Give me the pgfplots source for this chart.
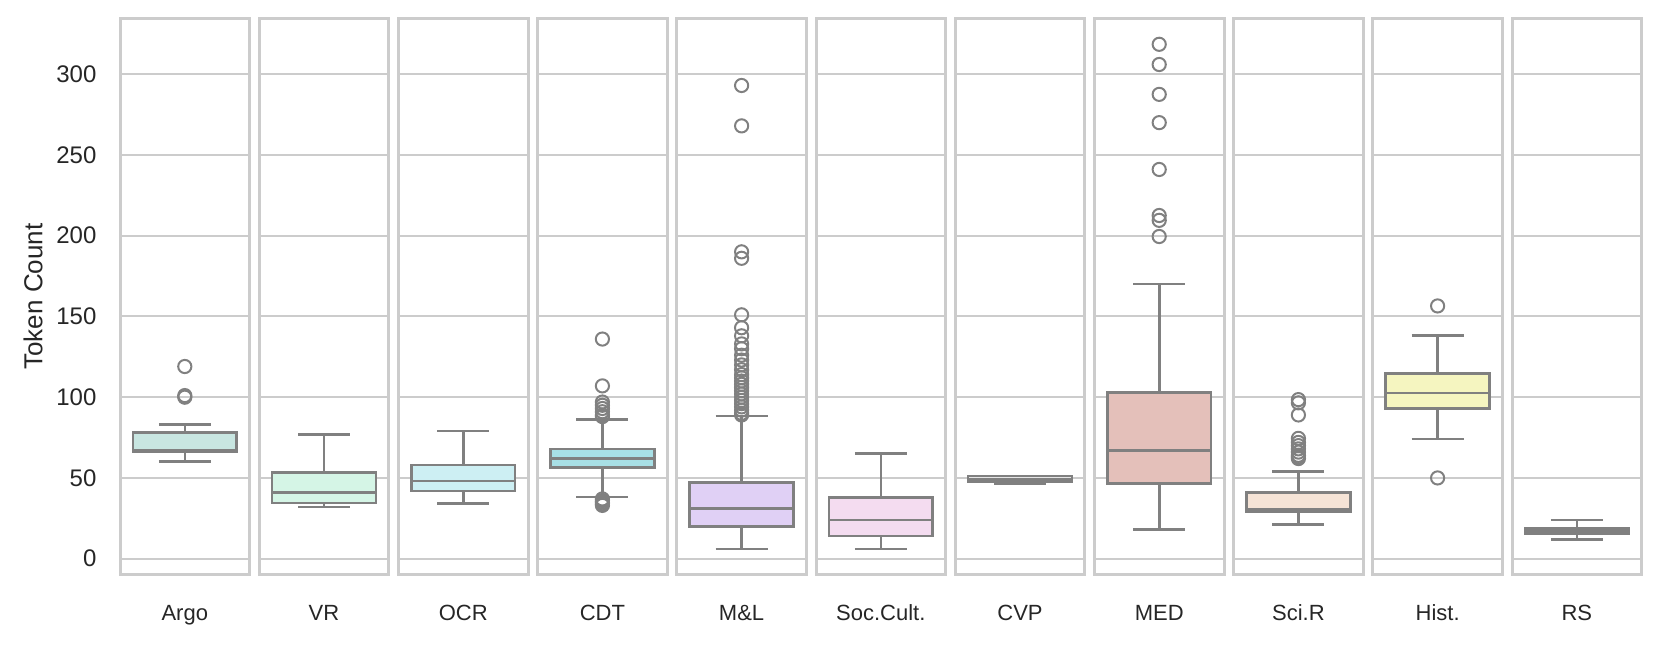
\documentclass[border=0pt]{standalone}
\usepackage{pgfplots}
\pgfplotsset{compat=1.18}
\usepgfplotslibrary{statistics}
\usepackage{fontspec}
\setmainfont{Liberation Sans}
\definecolor{gridgray}{HTML}{CCCCCC}
\definecolor{boxgray}{HTML}{808080}
\definecolor{txt}{HTML}{262626}
\definecolor{c1}{HTML}{C8E6E1}
\definecolor{c2}{HTML}{D5F5E6}
\definecolor{c3}{HTML}{CDEFF3}
\definecolor{c4}{HTML}{A8E0E6}
\definecolor{c5}{HTML}{E0D0F5}
\definecolor{c6}{HTML}{F4DCF0}
\definecolor{c7}{HTML}{E6E6E6}
\definecolor{c8}{HTML}{E4C0BA}
\definecolor{c9}{HTML}{F5E3D6}
\definecolor{c10}{HTML}{F5F5C0}
\definecolor{c11}{HTML}{D0D0E0}
\pgfplotsset{
  panel/.style={
    scale only axis, width=64.8bp, height=277.7bp, anchor=south west,
    xmin=-0.5, xmax=0.5, ymin=-9.6, ymax=334.3,
    xtick=\empty, ytick={0,50,100,150,200,250,300},
    ymajorgrids, grid style={gridgray, line width=1bp},
    axis line style={gridgray, line width=1.5bp},
    major tick length=0pt,
    xlabel style={at={(axis description cs:0.5,0)}, anchor=base, yshift=-23.3bp, font=\fontsize{11bp}{13bp}\selectfont, text=txt},
    yticklabel style={anchor=east, inner sep=0pt, xshift=-11.6bp, font=\fontsize{12bp}{14bp}\selectfont, text=txt},
    boxplot/draw direction=y,
  },
  noy/.style={yticklabels={}},
  bx/.style={
    draw=boxgray, line width=1.3bp, solid,
    mark=o, mark size=3.3bp, mark options={draw=boxgray, line width=1bp, solid, fill=none},
    boxplot/every box/.style={fill=#1, draw=boxgray, line width=1.3bp},
    boxplot/every whisker/.style={draw=boxgray, line width=1.3bp},
    boxplot/every median/.style={draw=boxgray, line width=1.3bp},
  },
}
\begin{document}
\begin{tikzpicture}
\path[use as bounding box] (0,0) rectangle (830.5bp,327bp);
% 1 Argo
\begin{axis}[panel, at={(60bp,39.9bp)}, xlabel={Argo},
  yticklabels={0,50,100,150,200,250,300},
  ylabel={Token Count},
  ylabel style={at={(axis description cs:0,0.5)}, anchor=center, yshift=43.5bp, font=\fontsize{13bp}{15bp}\selectfont, text=txt}]
\addplot[bx=c1, boxplot prepared={draw position=0, box extend=0.8, whisker extend=0.4, lower whisker=60, lower quartile=66, median=67, upper quartile=78, upper whisker=83}]
  table[row sep=\\, y index=0] {v\\ 119\\ 101\\ 100\\};
\end{axis}
% 2 VR
\begin{axis}[panel, noy, at={(129.6bp,39.9bp)}, xlabel={VR}]
\addplot[bx=c2, boxplot prepared={draw position=0, box extend=0.8, whisker extend=0.4, lower whisker=32, lower quartile=34.5, median=41, upper quartile=53.5, upper whisker=77}] coordinates {};
\end{axis}
% 3 OCR
\begin{axis}[panel, noy, at={(199.2bp,39.9bp)}, xlabel={OCR}]
\addplot[bx=c3, boxplot prepared={draw position=0, box extend=0.8, whisker extend=0.4, lower whisker=34, lower quartile=42, median=48, upper quartile=58, upper whisker=79}] coordinates {};
\end{axis}
% 4 CDT
\begin{axis}[panel, noy, at={(268.8bp,39.9bp)}, xlabel={CDT}]
\addplot[bx=c4, boxplot prepared={draw position=0, box extend=0.8, whisker extend=0.4, lower whisker=38.3, lower quartile=56.3, median=62.2, upper quartile=67.9, upper whisker=86.2}]
  table[row sep=\\, y index=0] {v\\ 136\\ 107\\ 97\\ 95\\ 93\\ 91\\ 89\\ 88\\ 37\\ 36\\ 35\\ 34\\ 33\\};
\end{axis}
% 5 M&L
\begin{axis}[panel, noy, at={(338.4bp,39.9bp)}, xlabel={M\&L}]
\addplot[bx=c5, boxplot prepared={draw position=0, box extend=0.8, whisker extend=0.4, lower whisker=6, lower quartile=20, median=31, upper quartile=47, upper whisker=88.3}]
  table[row sep=\\, y index=0] {v\\ 293\\ 268\\ 190\\ 186\\ 151\\ 143\\ 138\\ 133\\ 130\\ 126\\ 123\\ 120\\ 117\\ 114\\ 112\\ 110\\ 108\\ 106\\ 104\\ 102\\ 100\\ 98\\ 96\\ 94\\ 92\\ 90\\ 89\\};
\end{axis}
% 6 Soc.Cult.
\begin{axis}[panel, noy, at={(408bp,39.9bp)}, xlabel={Soc.Cult.}]
\addplot[bx=c6, boxplot prepared={draw position=0, box extend=0.8, whisker extend=0.4, lower whisker=6, lower quartile=14, median=24, upper quartile=38, upper whisker=65}] coordinates {};
\end{axis}
% 7 CVP
\begin{axis}[panel, noy, at={(477.6bp,39.9bp)}, xlabel={CVP}]
\addplot[bx=c7, boxplot prepared={draw position=0, box extend=0.8, whisker extend=0.4, lower whisker=46.3, lower quartile=47.4, median=49.1, upper quartile=51.1, upper whisker=51.1}] coordinates {};
\end{axis}
% 8 MED
\begin{axis}[panel, noy, at={(547.2bp,39.9bp)}, xlabel={MED}]
\addplot[bx=c8, boxplot prepared={draw position=0, box extend=0.8, whisker extend=0.4, lower whisker=18, lower quartile=46.5, median=67, upper quartile=103, upper whisker=170}]
  table[row sep=\\, y index=0] {v\\ 318.5\\ 306\\ 287.5\\ 270\\ 241\\ 212.5\\ 209.5\\ 199.5\\};
\end{axis}
% 9 Sci.R
\begin{axis}[panel, noy, at={(616.8bp,39.9bp)}, xlabel={Sci.R}]
\addplot[bx=c9, boxplot prepared={draw position=0, box extend=0.8, whisker extend=0.4, lower whisker=21, lower quartile=28.8, median=30.5, upper quartile=41, upper whisker=54}]
  table[row sep=\\, y index=0] {v\\ 98.5\\ 96.5\\ 89\\ 74.5\\ 72\\ 70\\ 68\\ 66\\ 64\\ 63\\ 62\\};
\end{axis}
% 10 Hist.
\begin{axis}[panel, noy, at={(686.4bp,39.9bp)}, xlabel={Hist.}]
\addplot[bx=c10, boxplot prepared={draw position=0, box extend=0.8, whisker extend=0.4, lower whisker=74, lower quartile=93, median=102.7, upper quartile=114.8, upper whisker=138.2}]
  table[row sep=\\, y index=0] {v\\ 156.5\\ 50\\};
\end{axis}
% 11 RS
\begin{axis}[panel, noy, at={(756bp,39.9bp)}, xlabel={RS}]
\addplot[bx=c11, boxplot prepared={draw position=0, box extend=0.8, whisker extend=0.4, lower whisker=12, lower quartile=15.4, median=16.9, upper quartile=18.7, upper whisker=23.9}] coordinates {};
\end{axis}
\end{tikzpicture}
\end{document}
